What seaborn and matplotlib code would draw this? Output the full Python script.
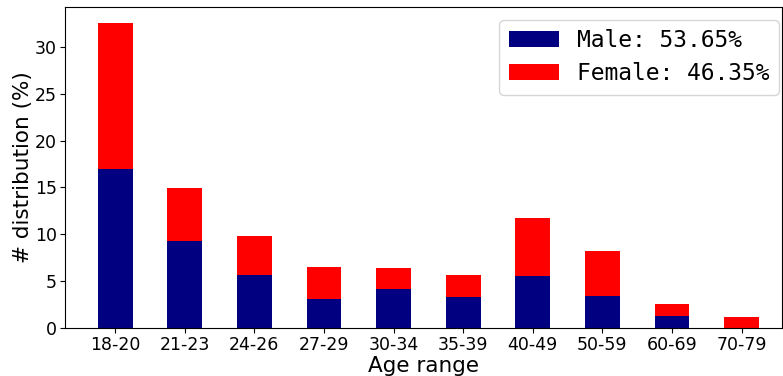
import numpy as np
import matplotlib
matplotlib.use("Agg")
import matplotlib.pyplot as plt
import seaborn as sns
import pandas as pd

age_ranges = ['18-20', '21-23', '24-26', '27-29', '30-34',
              '35-39', '40-49', '50-59', '60-69', '70-79']
male = [17.0, 9.28, 5.66, 3.1, 4.16, 3.34, 5.55, 3.45, 1.31, 0.0]
female = [15.55, 5.62, 4.16, 3.41, 2.24, 2.32, 6.19, 4.77, 1.25, 1.17]
male_label = 'Male: 53.65%'
female_label = 'Female: 46.35%'

df = pd.DataFrame({'age': age_ranges, 'male': male, 'female': female})
df['total'] = df['male'] + df['female']

fig = plt.figure(figsize=(7.83, 3.76), dpi=100)
ax = fig.add_axes([65 / 783, 48 / 376, 717 / 783, 321 / 376])

# stacked: total in red first, male in navy drawn over it
sns.barplot(data=df, x='age', y='total', color='red', width=0.5,
            saturation=1, label=female_label, ax=ax)
sns.barplot(data=df, x='age', y='male', color='navy', width=0.5,
            saturation=1, label=male_label, ax=ax)

ax.set_xlim(-0.72, 9.58)
ax.set_ylim(0, 34.25)
ax.set_yticks([0, 5, 10, 15, 20, 25, 30])
ax.tick_params(labelsize=12.5, pad=2.5)
ax.set_xlabel('Age range', fontsize=15.5, labelpad=1)
ax.set_ylabel('# distribution (%)', fontsize=15.5, labelpad=1)

handles, labels = ax.get_legend_handles_labels()
order = [labels.index(male_label), labels.index(female_label)]
ax.legend([handles[i] for i in order], [labels[i] for i in order],
          loc='upper right', bbox_to_anchor=(779 / 783, 356 / 376),
          bbox_transform=fig.transFigure, borderaxespad=0,
          prop={'family': 'DejaVu Sans Mono', 'size': 16.5},
          handlelength=2.2, labelspacing=0.45)

fig.savefig('out.png', dpi=100)
